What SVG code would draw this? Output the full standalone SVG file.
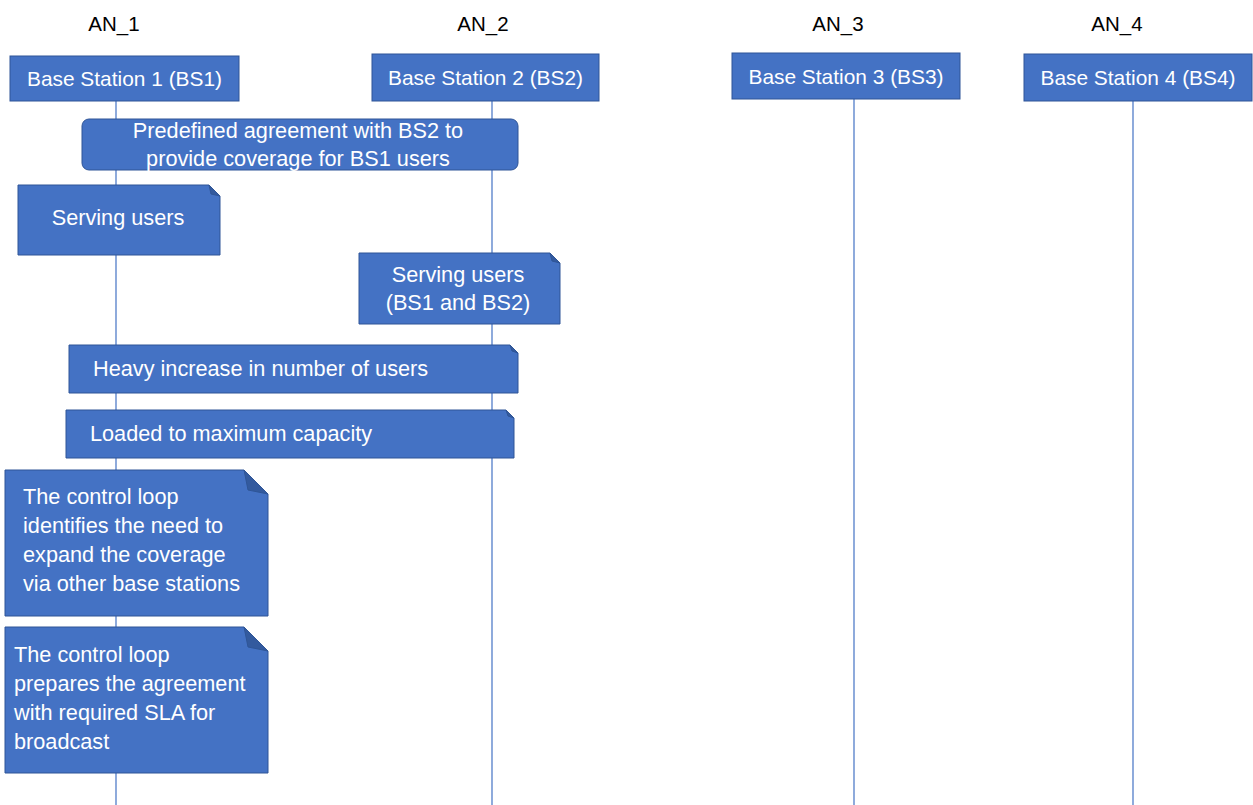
<svg xmlns="http://www.w3.org/2000/svg" width="1253" height="805" viewBox="0 0 1253 805">
  <style>
    .hdr { font-family: "Liberation Sans", Arial, sans-serif; font-size: 20.5px; fill: #000; text-anchor: middle; }
    .box { fill: #4472C4; stroke: #2F5597; stroke-width: 1; }
    .fold { fill: #335A9E; stroke: #2F5597; stroke-width: 1; }
    .lbl { font-family: "Liberation Sans", Arial, sans-serif; font-size: 21.7px; fill: #fff; }
    .bs { font-size: 20.9px; }
    .mid { text-anchor: middle; }
    .life { stroke: #4472C4; stroke-width: 1.2; fill: none; }
  </style>

  <!-- lifelines, drawn first so boxes sit on top -->
  <g id="connectors">
    <line class="life" x1="116" y1="101" x2="116" y2="805"/>
    <line class="life" x1="492" y1="101" x2="492" y2="805"/>
    <line class="life" x1="854" y1="99" x2="854" y2="805"/>
    <line class="life" x1="1133" y1="101" x2="1133" y2="805"/>
  </g>

  <!-- access network headers -->
  <g id="headers">
    <text class="hdr" x="114" y="31">AN_1</text>
    <text class="hdr" x="483" y="31">AN_2</text>
    <text class="hdr" x="838" y="31">AN_3</text>
    <text class="hdr" x="1117" y="31">AN_4</text>
  </g>

  <g id="bs1">
    <rect class="box" x="10" y="56" width="229" height="45"/>
    <text class="lbl bs mid" x="124.5" y="86">Base Station 1 (BS1)</text>
  </g>
  <g id="bs2">
    <rect class="box" x="372" y="54" width="227" height="47"/>
    <text class="lbl bs mid" x="485.5" y="85">Base Station 2 (BS2)</text>
  </g>
  <g id="bs3">
    <rect class="box" x="732" y="53" width="228" height="46"/>
    <text class="lbl bs mid" x="846" y="84">Base Station 3 (BS3)</text>
  </g>
  <g id="bs4">
    <rect class="box" x="1024" y="54" width="228" height="47"/>
    <text class="lbl bs mid" x="1138" y="85">Base Station 4 (BS4)</text>
  </g>

  <g id="agreement">
    <rect class="box" x="82" y="119" width="436" height="51" rx="7"/>
    <text class="lbl mid" x="298" y="138">Predefined agreement with BS2 to</text>
    <text class="lbl mid" x="298" y="166">provide coverage for BS1 users</text>
  </g>

  <g id="serving-bs1">
    <path class="box" d="M18 185 H209 L220 196 V255 H18 Z"/>
    <path class="fold" d="M209 185 L220 196 L211 194 Z"/>
    <text class="lbl mid" x="118" y="225">Serving users</text>
  </g>

  <g id="serving-bs2">
    <path class="box" d="M359 253 H550 L560 263 V324 H359 Z"/>
    <path class="fold" d="M550 253 L560 263 L552 261 Z"/>
    <text class="lbl mid" x="458" y="282">Serving users</text>
    <text class="lbl mid" x="458" y="310">(BS1 and BS2)</text>
  </g>

  <g id="heavy-increase">
    <path class="box" d="M69 345 H510 L518 353 V393 H69 Z"/>
    <path class="fold" d="M510 345 L518 353 L512 351 Z"/>
    <text class="lbl" x="93" y="376">Heavy increase in number of users</text>
  </g>

  <g id="loaded">
    <path class="box" d="M66 410 H506 L514 418 V458 H66 Z"/>
    <path class="fold" d="M506 410 L514 418 L508 416 Z"/>
    <text class="lbl" x="90" y="441">Loaded to maximum capacity</text>
  </g>

  <g id="identify-need">
    <path class="box" d="M5 470 H244 L268 494 V616 H5 Z"/>
    <path class="fold" d="M244 470 L268 494 L248 490 Z"/>
    <text class="lbl" x="23" y="504">The control loop</text>
    <text class="lbl" x="23" y="533">identifies the need to</text>
    <text class="lbl" x="23" y="562">expand the coverage</text>
    <text class="lbl" x="23" y="591">via other base stations</text>
  </g>

  <g id="prepare-agreement">
    <path class="box" d="M5 627 H244 L268 651 V773 H5 Z"/>
    <path class="fold" d="M244 627 L268 651 L248 647 Z"/>
    <text class="lbl" x="14" y="662">The control loop</text>
    <text class="lbl" x="14" y="691">prepares the agreement</text>
    <text class="lbl" x="14" y="720">with required SLA for</text>
    <text class="lbl" x="14" y="749">broadcast</text>
  </g>
</svg>
